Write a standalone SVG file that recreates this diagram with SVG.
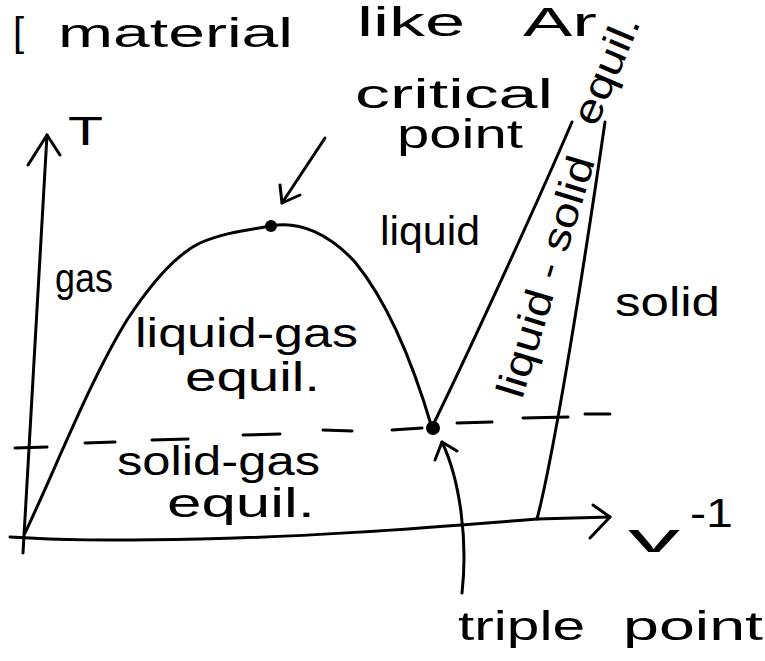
<svg xmlns="http://www.w3.org/2000/svg" width="765" height="661" viewBox="0 0 765 661">
<style>
.ln{fill:none;stroke:#000;stroke-width:3;stroke-linecap:round;stroke-linejoin:round}
.t{font-family:"Liberation Sans","DejaVu Sans",sans-serif;fill:#000;font-size:40px}
</style>
<rect width="765" height="661" fill="#fff"/>
<g id="title">
<text class="t" x="13" y="46" font-size="54">[</text>
<text class="t" x="58" y="47" textLength="235" lengthAdjust="spacingAndGlyphs">material</text>
<text class="t" x="357" y="36" font-size="37" textLength="108" lengthAdjust="spacingAndGlyphs">like</text>
<text class="t" x="523" y="36" font-size="37" textLength="74" lengthAdjust="spacingAndGlyphs">Ar</text>
</g>
<g id="axes">
<path class="ln" d="M23,553 L47,135"/>
<path class="ln" d="M28,165 L47,135 L60,155"/>
<path class="ln" d="M15,448 L47,447"/>
<path class="ln" d="M10,537 C60,540 100,541 200,539 C300,537 400,530 537,519 L610,517"/>
<path class="ln" d="M593,505 L610,517 L590,538"/>
<text class="t" x="68" y="145" font-size="44" textLength="35" lengthAdjust="spacingAndGlyphs">T</text>
<text class="t" x="628" y="552" font-size="44" textLength="52" lengthAdjust="spacingAndGlyphs">v</text>
<text class="t" x="690" y="527" font-size="30" textLength="43" lengthAdjust="spacingAndGlyphs">-1</text>
</g>
<g id="connectors">
<path class="ln" d="M25,533 C55,470 90,380 127,320 C150,285 175,255 200,243 C225,232 250,230 271,226 C300,220 330,235 355,262 C390,305 415,370 432,428"/>
<path class="ln" d="M433,425 C460,370 530,220 572,122"/>
<path class="ln" d="M537,519 C555,450 585,260 605,122"/>
<g id="dashed" class="ln">
<path d="M85,443 L115,442"/>
<path d="M152,440 L188,439"/>
<path d="M243,435 L280,434"/>
<path d="M323,430 L352,431"/>
<path d="M392,430 L422,428"/>
<path d="M457,423 L492,422"/>
<path d="M523,418 L568,417"/>
<path d="M585,414 L610,414"/>
</g>
<path class="ln" d="M325,138 L282,203"/>
<path class="ln" d="M280,185 L282,203 L300,195"/>
<path class="ln" d="M462,593 C468,540 460,480 442,442"/>
<path class="ln" d="M435,460 L442,442 L457,451"/>
</g>
<g id="critical-point">
<circle cx="271" cy="226" r="6" fill="#000"/>
<text class="t" x="355" y="108" font-size="34" textLength="198" lengthAdjust="spacingAndGlyphs">critical</text>
<text class="t" x="397" y="148" font-size="34" textLength="126" lengthAdjust="spacingAndGlyphs">point</text>
</g>
<g id="triple-point">
<circle cx="433" cy="428" r="7" fill="#000"/>
<text class="t" x="458" y="640" textLength="127" lengthAdjust="spacingAndGlyphs">triple</text>
<text class="t" x="623" y="640" textLength="140" lengthAdjust="spacingAndGlyphs">point</text>
</g>
<g id="gas"><text class="t" x="55" y="292" font-size="40" textLength="58" lengthAdjust="spacingAndGlyphs">gas</text></g>
<g id="liquid"><text class="t" x="380" y="245" font-size="38" textLength="100" lengthAdjust="spacingAndGlyphs">liquid</text></g>
<g id="solid"><text class="t" x="615" y="316" textLength="105" lengthAdjust="spacingAndGlyphs">solid</text></g>
<g id="liquid-gas">
<text class="t" x="135" y="347" font-size="37" textLength="223" lengthAdjust="spacingAndGlyphs">liquid-gas</text>
<text class="t" x="185" y="391" font-size="37" textLength="135" lengthAdjust="spacingAndGlyphs">equil.</text>
</g>
<g id="solid-gas">
<text class="t" x="117" y="475" font-size="34" textLength="203" lengthAdjust="spacingAndGlyphs">solid-gas</text>
<text class="t" x="167" y="517" font-size="34" textLength="148" lengthAdjust="spacingAndGlyphs">equil.</text>
</g>
<g id="liquid-solid">
<text class="t" font-size="36" transform="translate(522,400) rotate(-73)" textLength="250" lengthAdjust="spacingAndGlyphs">liquid - solid</text>
<text class="t" font-size="34" transform="translate(596,128) rotate(-67)" textLength="115" lengthAdjust="spacingAndGlyphs">equil.</text>
</g>
</svg>
